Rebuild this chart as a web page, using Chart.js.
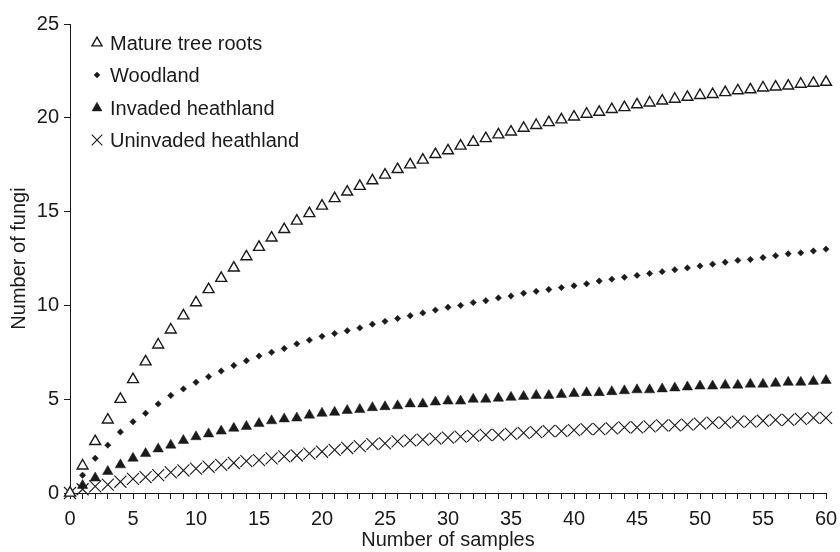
<!DOCTYPE html>
<html>
<head>
<meta charset="utf-8">
<script src="https://cdn.jsdelivr.net/npm/chart.js@4/dist/chart.umd.min.js"></script>
<style>
  html, body { margin: 0; padding: 0; background: #fff; }
  #wrap { width: 840px; height: 552px; }
</style>
</head>
<body>
<div id="wrap"><canvas id="c" width="840" height="552"></canvas></div>
<script>
// Number of samples (x) for each rarefaction curve
const samples = [0,1,2,3,4,5,6,7,8,9,10,11,12,13,14,15,16,17,18,19,20,
  21,22,23,24,25,26,27,28,29,30,31,32,33,34,35,36,37,38,39,40,
  41,42,43,44,45,46,47,48,49,50,51,52,53,54,55,56,57,58,59,60];

const matureTreeRoots = [0,1.45,2.75,3.9,5.0,6.05,7.0,7.9,8.7,9.45,10.15,
  10.85,11.45,12.0,12.6,13.1,13.6,14.05,14.5,14.9,15.3,
  15.7,16.05,16.35,16.65,16.95,17.25,17.5,17.75,18.05,18.25,
  18.5,18.7,18.9,19.1,19.25,19.45,19.6,19.75,19.9,20.05,
  20.2,20.3,20.45,20.55,20.7,20.8,20.9,21.0,21.1,21.2,
  21.25,21.35,21.45,21.5,21.6,21.65,21.7,21.8,21.85,21.9];

const woodland = [0,0.95,1.85,2.55,3.25,3.8,4.25,4.75,5.2,5.55,5.9,
  6.2,6.5,6.8,7.05,7.3,7.5,7.7,7.95,8.15,8.35,
  8.5,8.65,8.8,9.0,9.15,9.3,9.45,9.6,9.75,9.9,
  10.0,10.15,10.25,10.4,10.5,10.65,10.75,10.85,10.95,11.05,
  11.15,11.3,11.4,11.5,11.6,11.7,11.8,11.9,12.0,12.1,
  12.2,12.3,12.4,12.45,12.55,12.65,12.75,12.8,12.9,13.0];

const invadedHeathland = [0,0.4,0.8,1.15,1.5,1.85,2.1,2.35,2.55,2.8,3.0,
  3.15,3.3,3.45,3.55,3.7,3.85,3.95,4.0,4.15,4.25,
  4.3,4.4,4.45,4.55,4.6,4.65,4.75,4.75,4.85,4.9,
  4.9,5.0,5.0,5.05,5.1,5.15,5.2,5.2,5.25,5.3,
  5.35,5.35,5.4,5.45,5.5,5.5,5.55,5.6,5.65,5.7,
  5.7,5.75,5.75,5.8,5.8,5.85,5.9,5.9,5.95,6.0];

const uninvadedHeathland = [0,0.2,0.35,0.45,0.6,0.75,0.85,0.95,1.1,1.2,1.3,
  1.4,1.5,1.6,1.7,1.75,1.85,1.95,2.0,2.1,2.2,
  2.3,2.4,2.5,2.6,2.65,2.75,2.8,2.85,2.9,2.95,
  3.0,3.05,3.1,3.1,3.15,3.2,3.25,3.3,3.3,3.35,
  3.4,3.4,3.45,3.5,3.5,3.55,3.6,3.6,3.65,3.7,
  3.75,3.75,3.8,3.8,3.85,3.9,3.9,3.95,4.0,4.0];

const seriesNames = ['Mature tree roots', 'Woodland', 'Invaded heathland', 'Uninvaded heathland'];
const yTicks = [0, 5, 10, 15, 20, 25];
const xLabelStep = 5;

const INK = '#1a1a1a';
const FONT = "'Liberation Sans', Arial, sans-serif";

function points(values) {
  return samples.map((s, i) => ({ x: s, y: values[i] }));
}

// Legend drawn inside the plot area, top-left, one entry per line
const insideLegend = {
  id: 'insideLegend',
  afterDraw(chart) {
    const ctx = chart.ctx;
    const rows = [43, 75, 108, 140];
    ctx.save();
    ctx.font = '20px ' + FONT;
    ctx.textBaseline = 'middle';
    ctx.textAlign = 'left';
    chart.data.datasets.forEach((ds, i) => {
      const y = rows[i];
      ctx.fillStyle = ds.pointBackgroundColor;
      ctx.strokeStyle = ds.pointBorderColor;
      ctx.lineWidth = ds.pointBorderWidth;
      Chart.helpers.drawPoint(ctx, {
        pointStyle: ds.pointStyle,
        radius: ds.legendRadius,
        rotation: 0,
        borderWidth: ds.pointBorderWidth
      }, 97, y);
      ctx.fillStyle = INK;
      ctx.fillText(ds.label, 110, y + 1);
    });
    ctx.restore();
  }
};

new Chart(document.getElementById('c'), {
  type: 'scatter',
  data: {
    datasets: [
      {
        label: seriesNames[0],
        data: points(matureTreeRoots),
        pointStyle: 'triangle',
        pointRadius: 6.3,
        legendRadius: 5.8,
        pointBackgroundColor: '#ffffff',
        pointBorderColor: INK,
        pointBorderWidth: 1.4,
        showLine: false,
        clip: false
      },
      {
        label: seriesNames[1],
        data: points(woodland),
        pointStyle: 'rectRot',
        pointRadius: 3.2,
        legendRadius: 3,
        pointBackgroundColor: INK,
        pointBorderColor: INK,
        pointBorderWidth: 0.5,
        showLine: false,
        clip: false
      },
      {
        label: seriesNames[2],
        data: points(invadedHeathland),
        pointStyle: 'triangle',
        pointRadius: 6,
        legendRadius: 5.8,
        pointBackgroundColor: INK,
        pointBorderColor: INK,
        pointBorderWidth: 0.5,
        showLine: false,
        clip: false
      },
      {
        label: seriesNames[3],
        data: points(uninvadedHeathland),
        pointStyle: 'crossRot',
        pointRadius: 8.5,
        legendRadius: 7.5,
        pointBackgroundColor: INK,
        pointBorderColor: INK,
        pointBorderWidth: 1.1,
        showLine: false,
        clip: false
      }
    ]
  },
  options: {
    responsive: false,
    animation: false,
    events: [],
    layout: { padding: { top: 24, right: 14, left: 0, bottom: 0 } },
    plugins: {
      legend: { display: false },
      tooltip: { enabled: false }
    },
    scales: {
      x: {
        type: 'linear',
        min: 0,
        max: 60,
        afterFit(scale) {
          scale.height = 59;
          scale.paddingLeft = 0;
          scale.paddingRight = 0;
        },
        ticks: {
          stepSize: 1,
          autoSkip: false,
          maxRotation: 0,
          padding: 8,
          color: INK,
          font: { family: FONT, size: 20 },
          callback: (v) => (v % xLabelStep === 0 ? String(v) : '')
        },
        grid: {
          display: true,
          drawOnChartArea: false,
          drawTicks: true,
          tickLength: 6,
          color: INK,
          lineWidth: 1
        },
        border: { display: true, color: INK, width: 1 },
        title: {
          display: true,
          text: 'Number of samples',
          color: INK,
          font: { family: FONT, size: 20 },
          padding: { top: -4, bottom: 0 }
        }
      },
      y: {
        type: 'linear',
        min: 0,
        max: 25,
        afterFit(scale) { scale.width = 70; },
        afterBuildTicks(scale) { scale.ticks = yTicks.map(v => ({ value: v })); },
        ticks: {
          padding: 5,
          color: INK,
          font: { family: FONT, size: 20 }
        },
        grid: {
          display: true,
          drawOnChartArea: false,
          drawTicks: true,
          tickLength: 6,
          color: INK,
          lineWidth: 1
        },
        border: { display: true, color: INK, width: 1 },
        title: {
          display: true,
          text: 'Number of fungi',
          color: INK,
          font: { family: FONT, size: 20 },
          padding: { top: 7, bottom: 4 }
        }
      }
    }
  },
  plugins: [insideLegend]
});
</script>
</body>
</html>
